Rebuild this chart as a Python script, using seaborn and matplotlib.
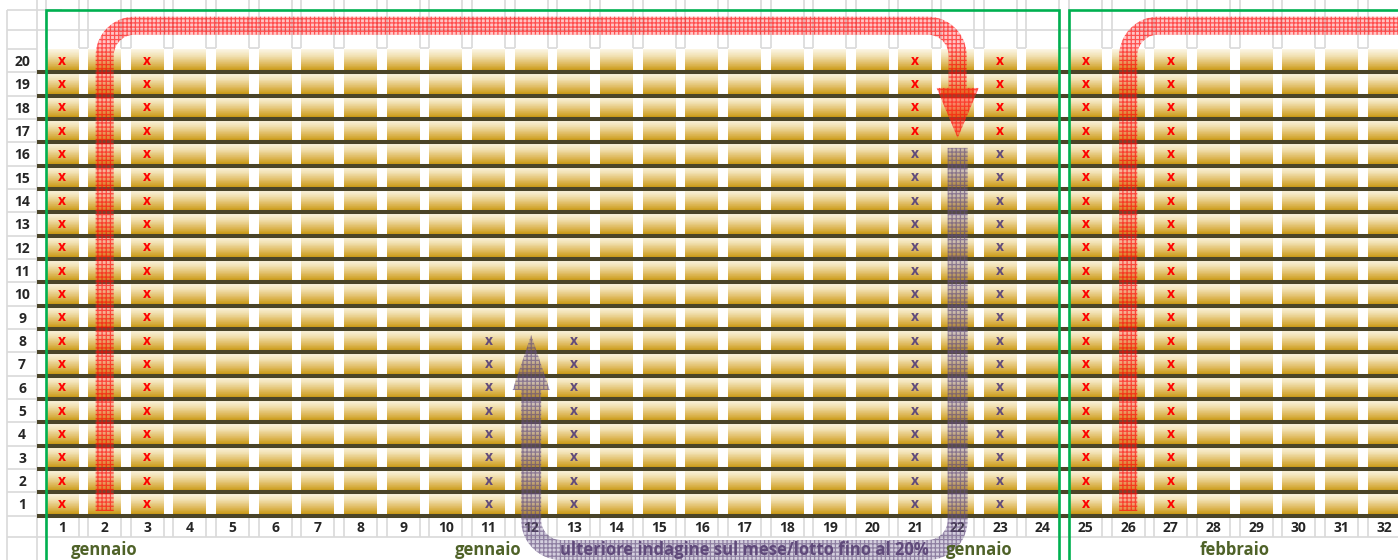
import numpy as np
import matplotlib
matplotlib.use("Agg")
import matplotlib.pyplot as plt
from matplotlib.patches import Polygon
from matplotlib.path import Path
from matplotlib.colors import LinearSegmentedColormap
import seaborn as sns

# --- dati del grafico ---
colonne = list(range(1, 33))           # lotti / giorni
righe = list(range(1, 21))             # posizioni nella colonna
altezza = [len(righe)] * len(colonne)  # ogni colonna piena (20 righe)

# x rosse: colonne complete
x_rosse_col = [1, 3, 25, 27]
# x rosse solo in alto (righe 17-20)
x_rosse_alte_col = [21, 23]
x_rosse_alte_righe = [17, 18, 19, 20]
# x viola (righe 1-16) sulle colonne 21 e 23
x_viola_col = [21, 23]
x_viola_righe = list(range(1, 17))
# x viola (righe 1-8) sulle colonne 11 e 13
x_viola2_col = [11, 13]
x_viola2_righe = list(range(1, 9))

mesi = ["gennaio", "gennaio", "gennaio", "febbraio"]
mesi_col = [2, 11, 22.5, 28.5]
nota = "ulteriore indagine sul mese/lotto fino al 20%"
nota_col = 17

# percorsi delle frecce (colonna, riga)
freccia_rossa = [(2, 0.19), (2, 21.0), (22, 21.0), (22, 18.33)]
freccia_rossa2 = [(26, 0.19), (26, 21.0), (33.5, 21.0)]
freccia_viola = [(22, 15.76), (22, -1.48), (12, -1.48), (12, 5.38)]

# --- stile ---
sns.set_style("white")
plt.rcParams['font.family'] = ['Open Sans', 'DejaVu Sans']
plt.rcParams['hatch.linewidth'] = 0.9

ORO = ["#fdf9ec", "#f2e2b4", "#e0bc62", "#c8960c"]
SCURO = "#4a4428"
GRIGIO = "#d9d9d9"
VERDE = "#00b050"
ROSSO = "#ff0000"
VIOLA = "#604a7b"
OLIVA = "#4f6228"

fig = plt.figure(figsize=(13.98, 5.6), dpi=100)
ax = fig.add_axes([40.7 / 1398, 44.5 / 560, (1398 - 40.7) / 1398, 466.5 / 560])

# barre base (seaborn)
sns.barplot(x=colonne, y=altezza, color=ORO[-1], width=0.774, ax=ax, zorder=1)
ax.set_xlim(-0.5, 31.325)
ax.set_ylim(0, 20)

# sfumatura dorata per ogni riga, ritagliata sulle barre
t = np.linspace(0, 1, 60)
grad = np.tile(t, len(righe))[:, None]
cmap_oro = LinearSegmentedColormap.from_list("oro", ORO)
im = ax.imshow(grad, cmap=cmap_oro, aspect="auto", extent=(-0.6, 32, 0, 20),
               origin="upper", interpolation="nearest", zorder=2)
percorsi = [p.get_path().transformed(p.get_patch_transform()) for p in ax.patches]
im.set_clip_path(Path.make_compound_path(*percorsi), ax.transData)
ax.set_xlim(-0.5, 31.325)
ax.set_ylim(0, 20)

# linee scure tra le righe
ax.hlines(np.arange(len(righe)), -0.586, 32, colors=SCURO, lw=2.9, zorder=3, clip_on=False)

# assi
ax.set_xticks(range(len(colonne)))
ax.set_xticklabels([str(c) for c in colonne], fontsize=10, fontweight="bold")
ax.set_yticks(np.arange(len(righe)) + 0.5)
ax.set_yticklabels([str(r) for r in righe], fontsize=10, fontweight="bold")
for lab in ax.get_yticklabels():
    lab.set_ha("center")
ax.tick_params(axis="x", length=0, pad=4)
ax.tick_params(axis="y", length=0, pad=13.4)
ax.set_xlabel("")
ax.set_ylabel("")
sns.despine(ax=ax, left=True, bottom=True)

# celle grigie tipo foglio Excel (decorazione)
hb = 0.387
y_top, y_10, y_30, y_48 = 22.2, 21.67, 20.81, 20.05
y_517, y_537, y_fondo = -0.07, -0.92, -1.95
x_7, x_37 = -1.29, -0.586
for i in range(len(colonne)):
    for xx in (i - hb, i + hb):
        ax.vlines(xx, y_48, y_top, colors=GRIGIO, lw=1.2, zorder=0.5, clip_on=False)
        ax.vlines(xx, y_537, y_517, colors=GRIGIO, lw=1.2, zorder=0.5, clip_on=False)
    ax.hlines(y_48, i + hb, i + 1 - hb, colors=GRIGIO, lw=1.2, zorder=0.5, clip_on=False)
ax.hlines([y_30, y_537], x_7, 33, colors=GRIGIO, lw=1.2, zorder=0.5, clip_on=False)
ax.hlines(y_10, x_7, 0, colors=GRIGIO, lw=1.2, zorder=0.5, clip_on=False)
ax.hlines(np.arange(len(righe) + 1), x_7, x_37, colors=GRIGIO, lw=1.2, zorder=0.5, clip_on=False)
ax.vlines(x_7, y_fondo, y_10, colors=GRIGIO, lw=1.2, zorder=0.5, clip_on=False)
ax.vlines(x_37, y_fondo, y_top, colors=GRIGIO, lw=1.2, zorder=0.5, clip_on=False)

# cornici verdi
for x0, x1 in [(0 - hb, 23 + hb), (24 - hb, 40)]:
    ax.plot([x0, x0, x1, x1], [y_fondo, y_10, y_10, y_fondo], color=VERDE, lw=1.9,
            zorder=6, clip_on=False, solid_joinstyle="miter")

# x nelle celle
def metti_x(cols, rr, colore):
    for c in cols:
        for r in rr:
            ax.text(c - 1, r - 0.5, "x", color=colore, fontsize=10, fontweight="bold",
                    ha="center", va="center", zorder=4)

metti_x(x_rosse_col, righe, ROSSO)
metti_x(x_rosse_alte_col, x_rosse_alte_righe, ROSSO)
metti_x(x_viola_col, x_viola_righe, VIOLA)
metti_x(x_viola2_col, x_viola2_righe, VIOLA)


# frecce a fascia con angoli arrotondati
def fascia(punti, larg, raggio, testa=None):
    P = ax.transData.transform([(c - 1, y) for c, y in punti])
    linea = []
    corrente = P[0]
    for k in range(1, len(P)):
        b = P[k]
        if k < len(P) - 1:
            c = P[k + 1]
            d1 = (b - P[k - 1]) / np.linalg.norm(b - P[k - 1])
            d2 = (c - b) / np.linalg.norm(c - b)
            p1 = b - d1 * raggio
            p2 = b + d2 * raggio
            linea += list(np.linspace(corrente, p1, 80))
            centro = p1 + d2 * raggio
            a0 = np.arctan2(*(p1 - centro)[::-1])
            a1 = np.arctan2(*(p2 - centro)[::-1])
            da = (a1 - a0 + np.pi) % (2 * np.pi) - np.pi
            ang = a0 + da * np.linspace(0, 1, 30)
            linea += [centro + raggio * np.array([np.cos(a), np.sin(a)]) for a in ang]
            corrente = p2
        else:
            linea += list(np.linspace(corrente, b, 80))
    linea = np.array(linea)
    tg = np.gradient(linea, axis=0)
    tg /= np.linalg.norm(tg, axis=1)[:, None]
    nn = np.column_stack([-tg[:, 1], tg[:, 0]])
    sx = linea + nn * larg / 2
    dx = linea - nn * larg / 2
    punta = []
    if testa is not None:
        L, W = testa
        E, d, n = linea[-1], tg[-1], nn[-1]
        punta = [E + n * W / 2, E + d * L, E - n * W / 2]
    poly = np.vstack([sx] + ([np.array(punta)] if punta else []) + [dx[::-1]])
    head = np.array(punta) if punta else None
    inv = ax.transData.inverted()
    return inv.transform(poly), (inv.transform(head) if head is not None else None)


for punti, testa, larg, fc, hc in [
    (freccia_rossa, (50, 42), 18, (1, 0.25, 0.25, 0.3), (1, 0, 0, 0.6)),
    (freccia_rossa2, None, 18, (1, 0.25, 0.25, 0.3), (1, 0, 0, 0.6)),
    (freccia_viola, (55, 37), 20, (0.45, 0.38, 0.58, 0.3), (0.376, 0.29, 0.48, 0.6)),
]:
    poly, head = fascia(punti, larg, 30, testa)
    ax.add_patch(Polygon(poly, closed=True, facecolor=fc, edgecolor=hc, lw=0,
                         hatch="++++", zorder=5, clip_on=False))
    if head is not None and fc[1] < 0.3:
        ax.add_patch(Polygon(head, closed=True, facecolor=(1, 0.2, 0.1, 0.3),
                             lw=0, zorder=5, clip_on=False))

# testi in basso
y_testo = -1.46
for m, c in zip(mesi, mesi_col):
    ax.text(c - 1, y_testo, m, color=OLIVA, fontsize=12, fontweight="bold",
            ha="center", va="center", zorder=7)
ax.text(nota_col - 1, y_testo, nota, color=VIOLA, fontsize=12, fontweight="bold",
        ha="center", va="center", zorder=7)

fig.savefig("out.png", dpi=100, facecolor="white")
